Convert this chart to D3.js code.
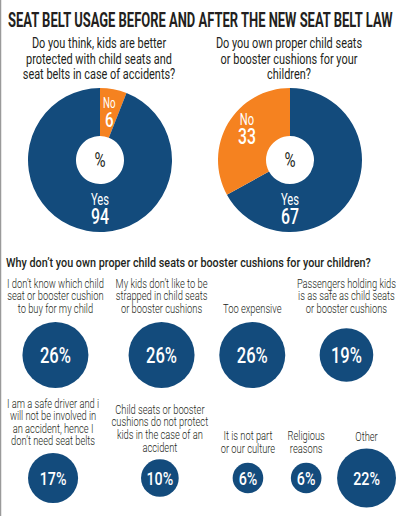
<!DOCTYPE html>
<meta charset="utf-8">
<script src="https://d3js.org/d3.v7.min.js"></script>
<style>
  body { margin: 0; background: #fff; }
  svg text { font-family: Roboto, "DejaVu Sans Condensed", sans-serif; fill: #231f20; }
</style>
<body>
<svg id="vis" width="400" height="516"></svg>
<script>
// ---- data ----
var title = "SEAT BELT USAGE BEFORE AND AFTER THE NEW SEAT BELT LAW";

var q1Lines = ["Do you think, kids are better", "protected with child seats and", "seat belts in case of accidents?"];
var q1Answers = ["No", "Yes"];
var q1Values = [6, 94];

var q2Lines = ["Do you own proper child seats", "or booster cushions for your", "children?"];
var q2Answers = ["Yes", "No"];
var q2Values = [67, 33];

var reasonsQuestion = "Why don\u2019t you own proper child seats or booster cushions for your children?";
var reasonsRow1 = [
  ["I don\u2019t know which child", "seat or booster cushion", "to buy for my child"],
  ["My kids don\u2019t like to be", "strapped in child seats", "or booster cushions"],
  ["Too expensive"],
  ["Passengers holding kids", "is as safe as child seats", "or booster cushions"]
];
var valuesRow1 = [26, 26, 26, 19];
var reasonsRow2 = [
  ["I am a safe driver and i", "will not be involved in", "an accident, hence I", "don\u2019t need seat belts"],
  ["Child seats or booster", "cushions do not protect", "kids in the case of an", "accident"],
  ["It is not part", "or our culture"],
  ["Religious", "reasons"],
  ["Other"]
];
var valuesRow2 = [17, 10, 6, 6, 22];

// ---- setup ----
var blue = "#134b7c", orange = "#f58220";
var svg = d3.select("#vis");

// the original uses a very condensed face: squeeze each text style horizontally
function squeezeFor(str, size, weight, target) {
  var t = svg.append("text").attr("font-size", size).attr("font-weight", weight).text(str);
  var w = t.node().getComputedTextLength();
  t.remove();
  return target / w;
}
var styles = {
  title:    {size: 21,   weight: 700, sx: squeezeFor(title, 21, 700, 385)},
  question: {size: 14.5, weight: 400, sx: squeezeFor(q1Lines[1], 14.5, 400, 146)},
  heading:  {size: 13.5, weight: 500, sx: squeezeFor(reasonsQuestion, 13.5, 500, 365)},
  label:    {size: 12.5, weight: 300, sx: squeezeFor(reasonsRow1[0][0], 12.5, 300, 97)},
  answer:   {size: 16,   weight: 400, sx: squeezeFor("Yes", 16, 400, 18)},
  number:   {size: 22,   weight: 500, sx: squeezeFor("94", 22, 500, 18)},
  value:    {size: 22,   weight: 500, sx: squeezeFor("26%", 22, 500, 31)}
};

function addText(parent, x, y, str, st, opts) {
  opts = opts || {};
  var size = opts.size || st.size;
  var g = parent.append("g")
    .attr("transform", "translate(" + x + "," + y + ") scale(" + st.sx + ",1)");
  var t = g.append("text")
    .attr("text-anchor", opts.anchor || "middle")
    .attr("font-size", size)
    .attr("font-weight", st.weight)
    .text(str);
  if (opts.fill) t.style("fill", opts.fill);
  return g;
}

// left rule
svg.append("line").attr("x1", 0.5).attr("x2", 0.5).attr("y1", 0).attr("y2", 516)
  .attr("stroke", "#9a9a9a").attr("stroke-width", 1.5);

// title
addText(svg, 8, 27, title, styles.title, {anchor: "start"});

// ---- donuts ----
var color = d3.scaleOrdinal().domain(["Yes", "No"]).range([blue, orange]);
var outerR = 72, innerR = 24;
var pie = d3.pie().sort(null).value(function(d) { return d.value; });
var arc = d3.arc().innerRadius(innerR).outerRadius(outerR);
var labelArc = d3.arc().innerRadius(26).outerRadius(74);

function donut(cx, cy, lines, answers, values) {
  lines.forEach(function(l, i) { addText(svg, cx - 1, 48 + i * 15.5, l, styles.question); });
  var g = svg.append("g").attr("transform", "translate(" + cx + "," + cy + ")");
  var data = answers.map(function(a, i) { return {answer: a, value: values[i]}; });
  var arcs = pie(data);
  g.selectAll("path").data(arcs).enter().append("path")
    .attr("d", arc)
    .attr("fill", function(d) { return color(d.data.answer); });
  arcs.forEach(function(d) {
    var p;
    if (d.data.answer === "Yes") {
      p = [0, (innerR + outerR) / 2];
    } else {
      p = labelArc.centroid(d);
      if (p[1] > -40) p[1] -= 7; // keep the label in the upper part of a wide slice
    }
    var small = d.value < 10;
    addText(g, p[0], p[1] - 3, d.data.answer, styles.answer, {fill: "#fff", size: small ? 14 : 16});
    addText(g, p[0], p[1] + 16, d.value, styles.number, {fill: "#fff", size: small ? 21 : 22});
  });
  addText(g, 0, 7, "%", styles.question, {size: 20});
}

donut(100, 160, q1Lines, q1Answers, q1Values);
donut(290, 160, q2Lines, q2Answers, q2Values);

// ---- reasons ----
addText(svg, 6, 267, reasonsQuestion, styles.heading, {anchor: "start"});

var rScale = d3.scaleLinear().domain([0, 26]).range([10, 33]);

function bubbleRow(labels, values, baseY, cy, valueSize) {
  var x0 = 7, x1 = 396, lh = 12.6;
  var items = labels.map(function(lines, i) {
    var r = rScale(values[i]);
    // last line sits on the row baseline, or higher if the bubble reaches up
    var last = Math.min(baseY, cy - r - 7.5);
    var g = svg.append("g");
    var lg = g.append("g");
    lines.forEach(function(l, j) {
      addText(lg, 0, last - (lines.length - 1 - j) * lh, l, styles.label);
    });
    var w = Math.max(lg.node().getBBox().width, 2 * r);
    return {g: g, r: r, w: w, v: values[i]};
  });
  var total = d3.sum(items, function(d) { return d.w; });
  var gap = (x1 - x0 - total) / (items.length - 1);
  var x = x0;
  items.forEach(function(d) {
    var cx = x + d.w / 2;
    d.g.attr("transform", "translate(" + cx + ",0)");
    d.g.append("circle").attr("cx", 0).attr("cy", cy).attr("r", d.r).attr("fill", blue);
    addText(d.g, 0, cy + valueSize * 0.36, d.v + "%", styles.value, {fill: "#fff", size: valueSize});
    x += d.w + gap;
  });
}

bubbleRow(reasonsRow1, valuesRow1, 313, 355, 22);
bubbleRow(reasonsRow2, valuesRow2, 453, 478, 19);
</script>
</body>
